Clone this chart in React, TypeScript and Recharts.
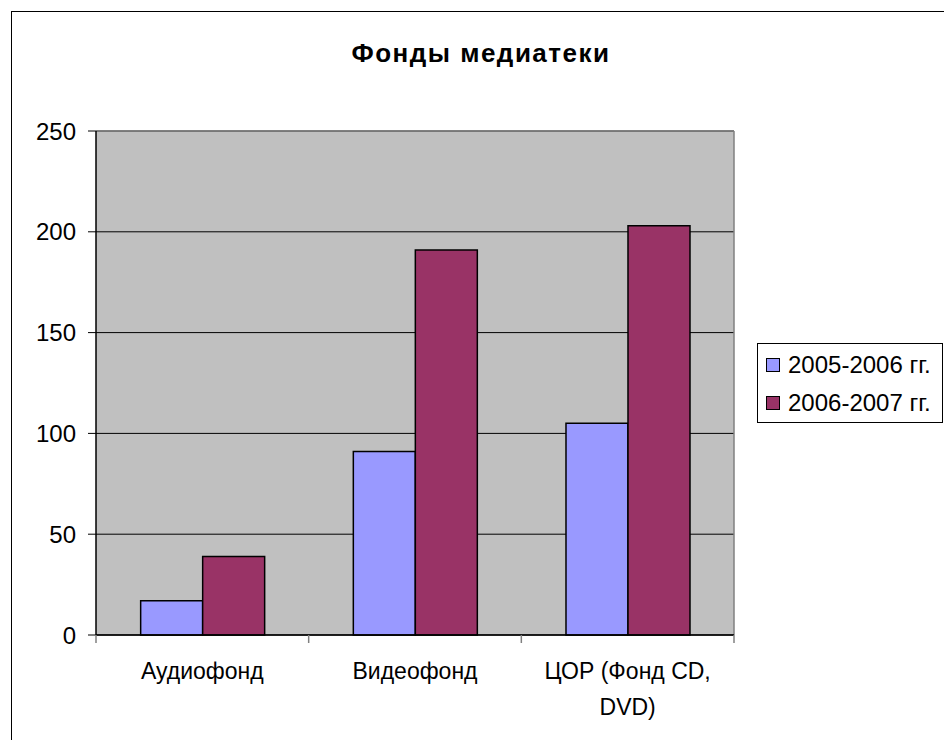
import React from "react";
import {
  BarChart,
  Bar,
  XAxis,
  YAxis,
  CartesianGrid,
  Legend,
  ReferenceLine,
} from "recharts";

const categories = ["Аудиофонд", "Видеофонд", "ЦОР (Фонд CD, DVD)"];
const values2005 = [17, 91, 105];
const values2006 = [39, 191, 203];
const seriesNames = ["2005-2006 гг.", "2006-2007 гг."];
const seriesColors = ["#9999FF", "#993366"];
const yTicks = [0, 50, 100, 150, 200, 250];
const title = "Фонды медиатеки";

const data = categories.map((c, i) => ({
  name: c,
  s1: values2005[i],
  s2: values2006[i],
}));

const FONT = "'Liberation Sans', Arial, sans-serif";
const WRAP_CHARS = 14;

function wrapLabel(s: string): string[] {
  const words = s.split(" ");
  const lines: string[] = [];
  let cur = "";
  for (const w of words) {
    const next = cur ? cur + " " + w : w;
    if (next.length > WRAP_CHARS && cur) {
      lines.push(cur);
      cur = w;
    } else {
      cur = next;
    }
  }
  if (cur) lines.push(cur);
  return lines;
}

const TICK_LEN = 8;

const XTick = (props: any) => {
  const { x, y, payload, index, visibleTicksCount } = props;
  const lines = wrapLabel(String(payload.value));
  const half = payload.offset || 0;
  const isLast = index === visibleTicksCount - 1;
  return (
    <g>
      <line
        x1={x - half}
        x2={x - half}
        y1={y - TICK_LEN}
        y2={y}
        stroke="#808080"
        strokeWidth={1.5}
      />
      {isLast && (
        <line
          x1={x + half}
          x2={x + half}
          y1={y - TICK_LEN}
          y2={y}
          stroke="#808080"
          strokeWidth={1.5}
        />
      )}
      <text
        x={x}
        y={y + 20}
        textAnchor="middle"
        fontSize={23}
        fontFamily={FONT}
        fill="#000"
      >
        {lines.map((l, i) => (
          <tspan key={i} x={x} dy={i === 0 ? "0.71em" : 36}>
            {l}
          </tspan>
        ))}
      </text>
    </g>
  );
};

const LegendBox = () => (
  <div
    style={{
      width: 184,
      height: 78,
      border: "1px solid #000",
      background: "#fff",
      fontFamily: FONT,
      fontSize: 24,
      boxSizing: "content-box",
    }}
  >
    {seriesNames.map((n, i) => (
      <div
        key={n}
        style={{
          position: "absolute",
          left: 9,
          top: 8 + i * 38,
          height: 28,
          display: "flex",
          alignItems: "center",
          whiteSpace: "nowrap",
        }}
      >
        <span
          style={{
            display: "inline-block",
            width: 12,
            height: 12,
            border: "1px solid #000",
            background: seriesColors[i],
            marginRight: 8,
          }}
        />
        <span>{n}</span>
      </div>
    ))}
  </div>
);

export default function App() {
  return (
    <div
      style={{
        position: "fixed",
        left: 0,
        top: 0,
        width: 944,
        height: 740,
        overflow: "hidden",
        background: "#fff",
      }}
    >
      <div
        style={{
          position: "absolute",
          left: 11,
          top: 11,
          width: 960,
          height: 760,
          border: "1px solid #000",
        }}
      />
      <div
        style={{
          position: "absolute",
          left: 0,
          top: 38,
          width: 962,
          textAlign: "center",
          fontFamily: FONT,
          fontWeight: "bold",
          fontSize: 26,
          letterSpacing: 1.5,
        }}
      >
        {title}
      </div>
      <div style={{ position: "absolute", left: 0, top: 0 }}>
        <BarChart
          width={944}
          height={740}
          data={data}
          margin={{ top: 131, right: 210, bottom: 0, left: 36 }}
          barCategoryGap="21%"
          barGap={0}
        >
          <CartesianGrid
            vertical={false}
            fill="#C0C0C0"
            stroke="#000"
            strokeWidth={1}
            fillOpacity={1}
          />
          <CartesianGrid
            horizontal={false}
            vertical
            stroke="#808080"
            strokeWidth={1.5}
            verticalCoordinatesGenerator={({ offset }: any) => [
              offset.left + offset.width,
            ]}
          />
          <XAxis
            dataKey="name"
            height={105}
            interval={0}
            tickLine={false}
            tickSize={6}
            tickMargin={2}
            axisLine={{ stroke: "#000", strokeWidth: 1.5 }}
            tick={<XTick />}
          />
          <YAxis
            width={60}
            domain={[0, 250]}
            ticks={yTicks}
            interval={0}
            tickSize={8}
            tickMargin={12}
            tickLine={{ stroke: "#000", strokeWidth: 1 }}
            axisLine={{ stroke: "#000", strokeWidth: 1.5 }}
            tick={{ fontSize: 24, fontFamily: FONT, fill: "#000" }}
          />
          <ReferenceLine y={250} stroke="#808080" strokeWidth={1.5} />
          <Bar
            dataKey="s1"
            name={seriesNames[0]}
            fill={seriesColors[0]}
            stroke="#000"
            strokeWidth={1.5}
            isAnimationActive={false}
          />
          <Bar
            dataKey="s2"
            name={seriesNames[1]}
            fill={seriesColors[1]}
            stroke="#000"
            strokeWidth={1.5}
            isAnimationActive={false}
          />
          <Legend
            layout="vertical"
            align="center"
            verticalAlign="middle"
            wrapperStyle={{ left: 757, top: 343, width: 186, height: 80 }}
            content={<LegendBox />}
          />
        </BarChart>
      </div>
    </div>
  );
}
